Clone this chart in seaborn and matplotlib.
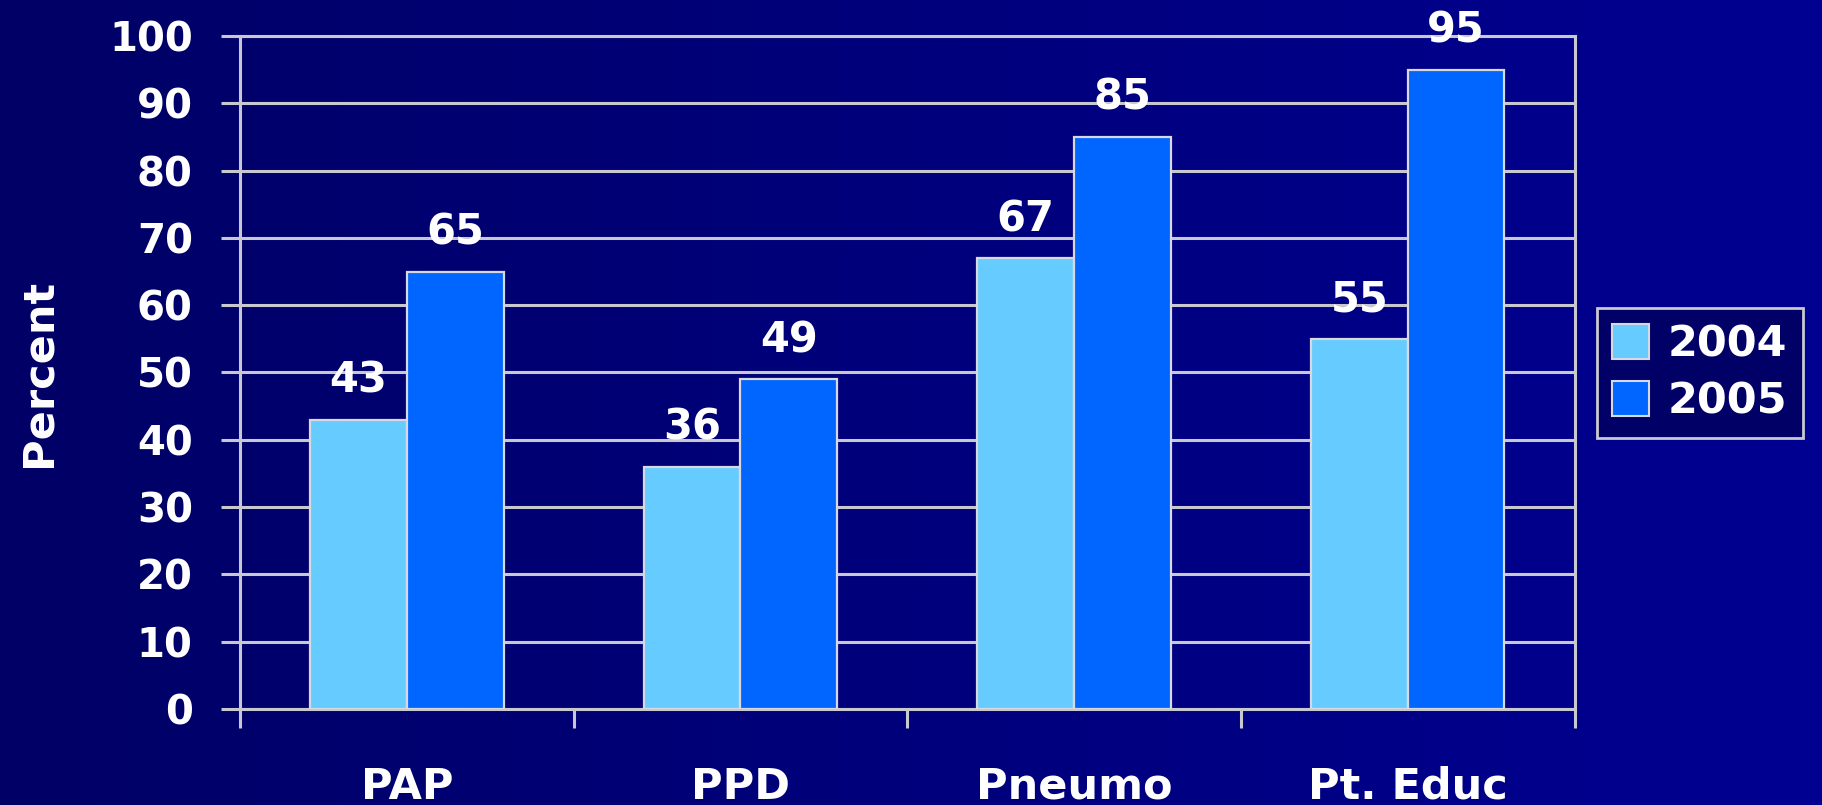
import numpy as np
import pandas as pd
import matplotlib
matplotlib.use("Agg")
import matplotlib.pyplot as plt
from matplotlib.patches import Patch
import seaborn as sns

categories = ["PAP", "PPD", "Pneumo", "Pt. Educ"]
years = ["2004", "2005"]
values_2004 = [43, 36, 67, 55]
values_2005 = [65, 49, 85, 95]
y_ticks = [0, 10, 20, 30, 40, 50, 60, 70, 80, 90, 100]

colors = {"2004": "#66CCFF", "2005": "#0066FF"}
line_col = "#C8C8D0"

df = pd.DataFrame({
    "category": categories * 2,
    "year": [years[0]] * len(categories) + [years[1]] * len(categories),
    "percent": values_2004 + values_2005,
})

sns.set_theme(style="white")
plt.rcParams["font.family"] = ["DejaVu Sans"]
plt.rcParams["font.weight"] = "bold"

W, H = 1822, 805
fig = plt.figure(figsize=(W / 100, H / 100), dpi=100)

# horizontal navy gradient behind everything
bg = fig.add_axes([0, 0, 1, 1], zorder=-10)
grad = np.linspace(0, 1, 256)[None, :]
bg_img = np.zeros((1, 256, 3))
bg_img[..., 2] = 0.40 + 0.17 * grad
bg.imshow(bg_img, aspect="auto", extent=[0, 1, 0, 1])
bg.set_axis_off()

ax = fig.add_axes([240 / W, 1 - 709 / H, (1574.5 - 240) / W, (709 - 36) / H])
ax.set_facecolor("none")

sns.barplot(data=df, x="category", y="percent", hue="year", order=categories,
            hue_order=years, palette=colors, width=0.58, dodge=True,
            edgecolor="#D8D8E0", linewidth=1.6, saturation=1, legend=False,
            ax=ax, zorder=3)

ax.set_ylim(0, 100)
ax.set_xlim(-0.5, len(categories) - 0.5)
ax.set_yticks(y_ticks)
ax.yaxis.grid(True, color=line_col, linewidth=2.2, zorder=0)
ax.set_axisbelow(True)
for s in ax.spines.values():
    s.set_color(line_col)
    s.set_linewidth(2.2)

ax.tick_params(axis="y", left=True, colors=line_col, labelcolor="white",
               length=14, width=2.2, direction="out", pad=20, labelsize=29)
ax.set_xticks(range(len(categories)))
ax.set_xticklabels(categories)
ax.tick_params(axis="x", which="major", bottom=True, length=0, pad=41,
               labelcolor="white", labelsize=31)
ax.set_xticks(np.arange(-0.5, len(categories)), minor=True)
ax.tick_params(axis="x", which="minor", bottom=True, length=14, width=2.2,
               colors=line_col, direction="out")
for lbl in ax.get_xticklabels() + ax.get_yticklabels():
    lbl.set_fontweight("bold")

ax.set_xlabel("")
ax.set_ylabel("Percent", color="white", fontsize=31, fontweight="bold",
              labelpad=36)

# value labels above each bar
for cont in ax.containers:
    for bar in cont:
        h = bar.get_height()
        ax.annotate(f"{h:g}", (bar.get_x() + bar.get_width() / 2, h),
                    xytext=(0, 13), textcoords="offset points",
                    ha="center", va="bottom", color="white",
                    fontsize=30, fontweight="bold")

handles = [Patch(facecolor=colors[y], edgecolor="#D8D8E0", linewidth=1.5, label=y)
           for y in years]
leg = fig.legend(handles=handles, loc="center left",
                 bbox_to_anchor=(1597 / W, 1 - 373 / H), frameon=True,
                 fancybox=False, prop={"weight": "bold", "size": 31},
                 handlelength=0.85, handleheight=0.85, handletextpad=0.45,
                 borderpad=0.35, borderaxespad=0, labelspacing=0.35)
leg.get_frame().set_facecolor("#000066")
leg.get_frame().set_edgecolor(line_col)
leg.get_frame().set_linewidth(2)
leg.get_frame().set_alpha(1)
for t in leg.get_texts():
    t.set_color("white")

fig.savefig("out.png", dpi=100)
